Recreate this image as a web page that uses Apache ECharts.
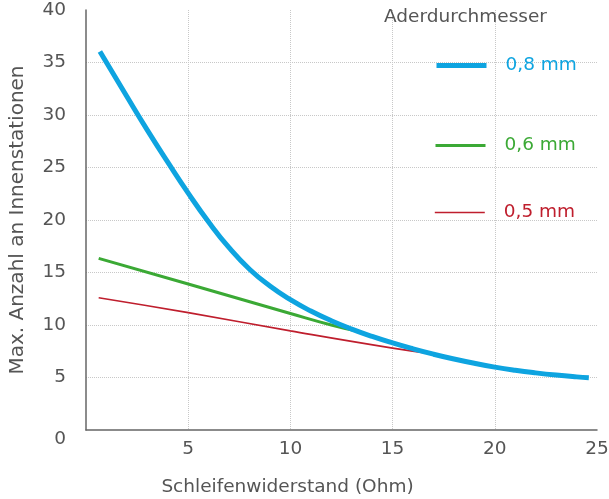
<!DOCTYPE html>
<html>
<head>
<meta charset="utf-8">
<script src="https://cdn.jsdelivr.net/npm/echarts@6/dist/echarts.min.js"></script>
<style>
  html, body { margin: 0; padding: 0; background: #fff; }
  #chart { width: 609px; height: 499px; }
</style>
</head>
<body>
<div id="chart"></div>
<script>
// Werte
const xBlue = [0.68, 2, 3, 4, 5, 6, 7, 8, 9, 10, 11, 12, 13, 14, 15, 16, 17, 18, 19, 20, 21, 22, 23, 24, 24.6]
const yBlue = [36.05, 31.76, 28.56, 25.51, 22.56, 19.81, 17.36, 15.31, 13.71, 12.41, 11.33, 10.41, 9.61, 8.91, 8.29, 7.73, 7.22, 6.76, 6.35, 5.99, 5.69, 5.44, 5.23, 5.06, 4.98]
const xGreen = [0.62, 5, 10, 12, 13.2]
const yGreen = [16.35, 13.9, 11.1, 10.0, 9.45]
const xRed = [0.62, 5, 10, 15, 17]
const yRed = [12.6, 11.18, 9.44, 7.8, 7.25]
const seriesNames = ['0,8 mm', '0,6 mm', '0,5 mm']
const xTicks = [0, 5, 10, 15, 20, 25]
const yTicks = [0, 5, 10, 15, 20, 25, 30, 35, 40]

const FONT = 'DejaVu Sans'
const GREY = '#555'
const colors = ['#0ea4e0', '#3ba935', '#bf1e2d']
const widths = [5, 3, 1.6]

const pairs = (xs, ys) => xs.map((x, i) => [x, ys[i]])

// eine Legende pro Linie, untereinander
const legendFor = (i, top) => ({
  data: [seriesNames[i]],
  left: 429,
  top: top,
  itemWidth: 50,
  itemHeight: 14,
  selectedMode: false,
  itemStyle: { opacity: 0 },
  lineStyle: { width: widths[i], color: colors[i] },
  textStyle: { color: colors[i], fontSize: 18.5, fontFamily: FONT, padding: [0, 0, 0, 14] }
})

let myChart = echarts.init(document.getElementById('chart'))
myChart.setOption({
  animation: false,
  textStyle: { fontFamily: FONT },
  title: {
    text: 'Aderdurchmesser',
    left: 379,
    top: 3,
    textStyle: { color: GREY, fontSize: 18.5, fontWeight: 'normal', fontFamily: FONT }
  },
  legend: [legendFor(0, 51), legendFor(1, 131), legendFor(2, 198)],
  grid: { left: 86, right: 12, top: 10, bottom: 69, outerBoundsMode: 'none' },
  xAxis: {
    type: 'value',
    min: xTicks[0],
    max: xTicks[xTicks.length - 1],
    interval: 5,
    name: 'Schleifenwiderstand (Ohm)',
    nameLocation: 'middle',
    nameGap: 48,
    nameTextStyle: { color: GREY, fontSize: 18.5, padding: [0, 108, 0, 0] },
    axisLine: { lineStyle: { color: '#666', width: 1.5 } },
    axisTick: { show: false },
    axisLabel: { color: GREY, fontSize: 18.5, margin: 10, showMinLabel: false },
    splitLine: { show: true, showMinLine: false, showMaxLine: false, lineStyle: { color: '#c8c8c8', type: 'dotted', width: 1 } }
  },
  yAxis: {
    type: 'value',
    min: yTicks[0],
    max: yTicks[yTicks.length - 1],
    interval: 5,
    name: 'Max. Anzahl an Innenstationen',
    nameLocation: 'middle',
    nameGap: 58,
    nameTextStyle: { color: GREY, fontSize: 20 },
    axisLine: { show: true, lineStyle: { color: '#666', width: 1.5 } },
    axisTick: { show: false },
    axisLabel: { color: GREY, fontSize: 18.5, margin: 20, verticalAlignMinLabel: 'top' },
    splitLine: { show: true, showMinLine: false, showMaxLine: false, lineStyle: { color: '#c8c8c8', type: 'dotted', width: 1 } }
  },
  series: [
    {
      name: seriesNames[1], type: 'line', data: pairs(xGreen, yGreen),
      smooth: true, symbol: 'none', color: colors[1], lineStyle: { width: widths[1] }, z: 2
    },
    {
      name: seriesNames[2], type: 'line', data: pairs(xRed, yRed),
      smooth: true, symbol: 'none', color: colors[2], lineStyle: { width: widths[2] }, z: 2
    },
    {
      name: seriesNames[0], type: 'line', data: pairs(xBlue, yBlue),
      smooth: 0.5, symbol: 'none', color: colors[0], lineStyle: { width: widths[0] }, z: 3
    }
  ]
})
</script>
</body>
</html>
